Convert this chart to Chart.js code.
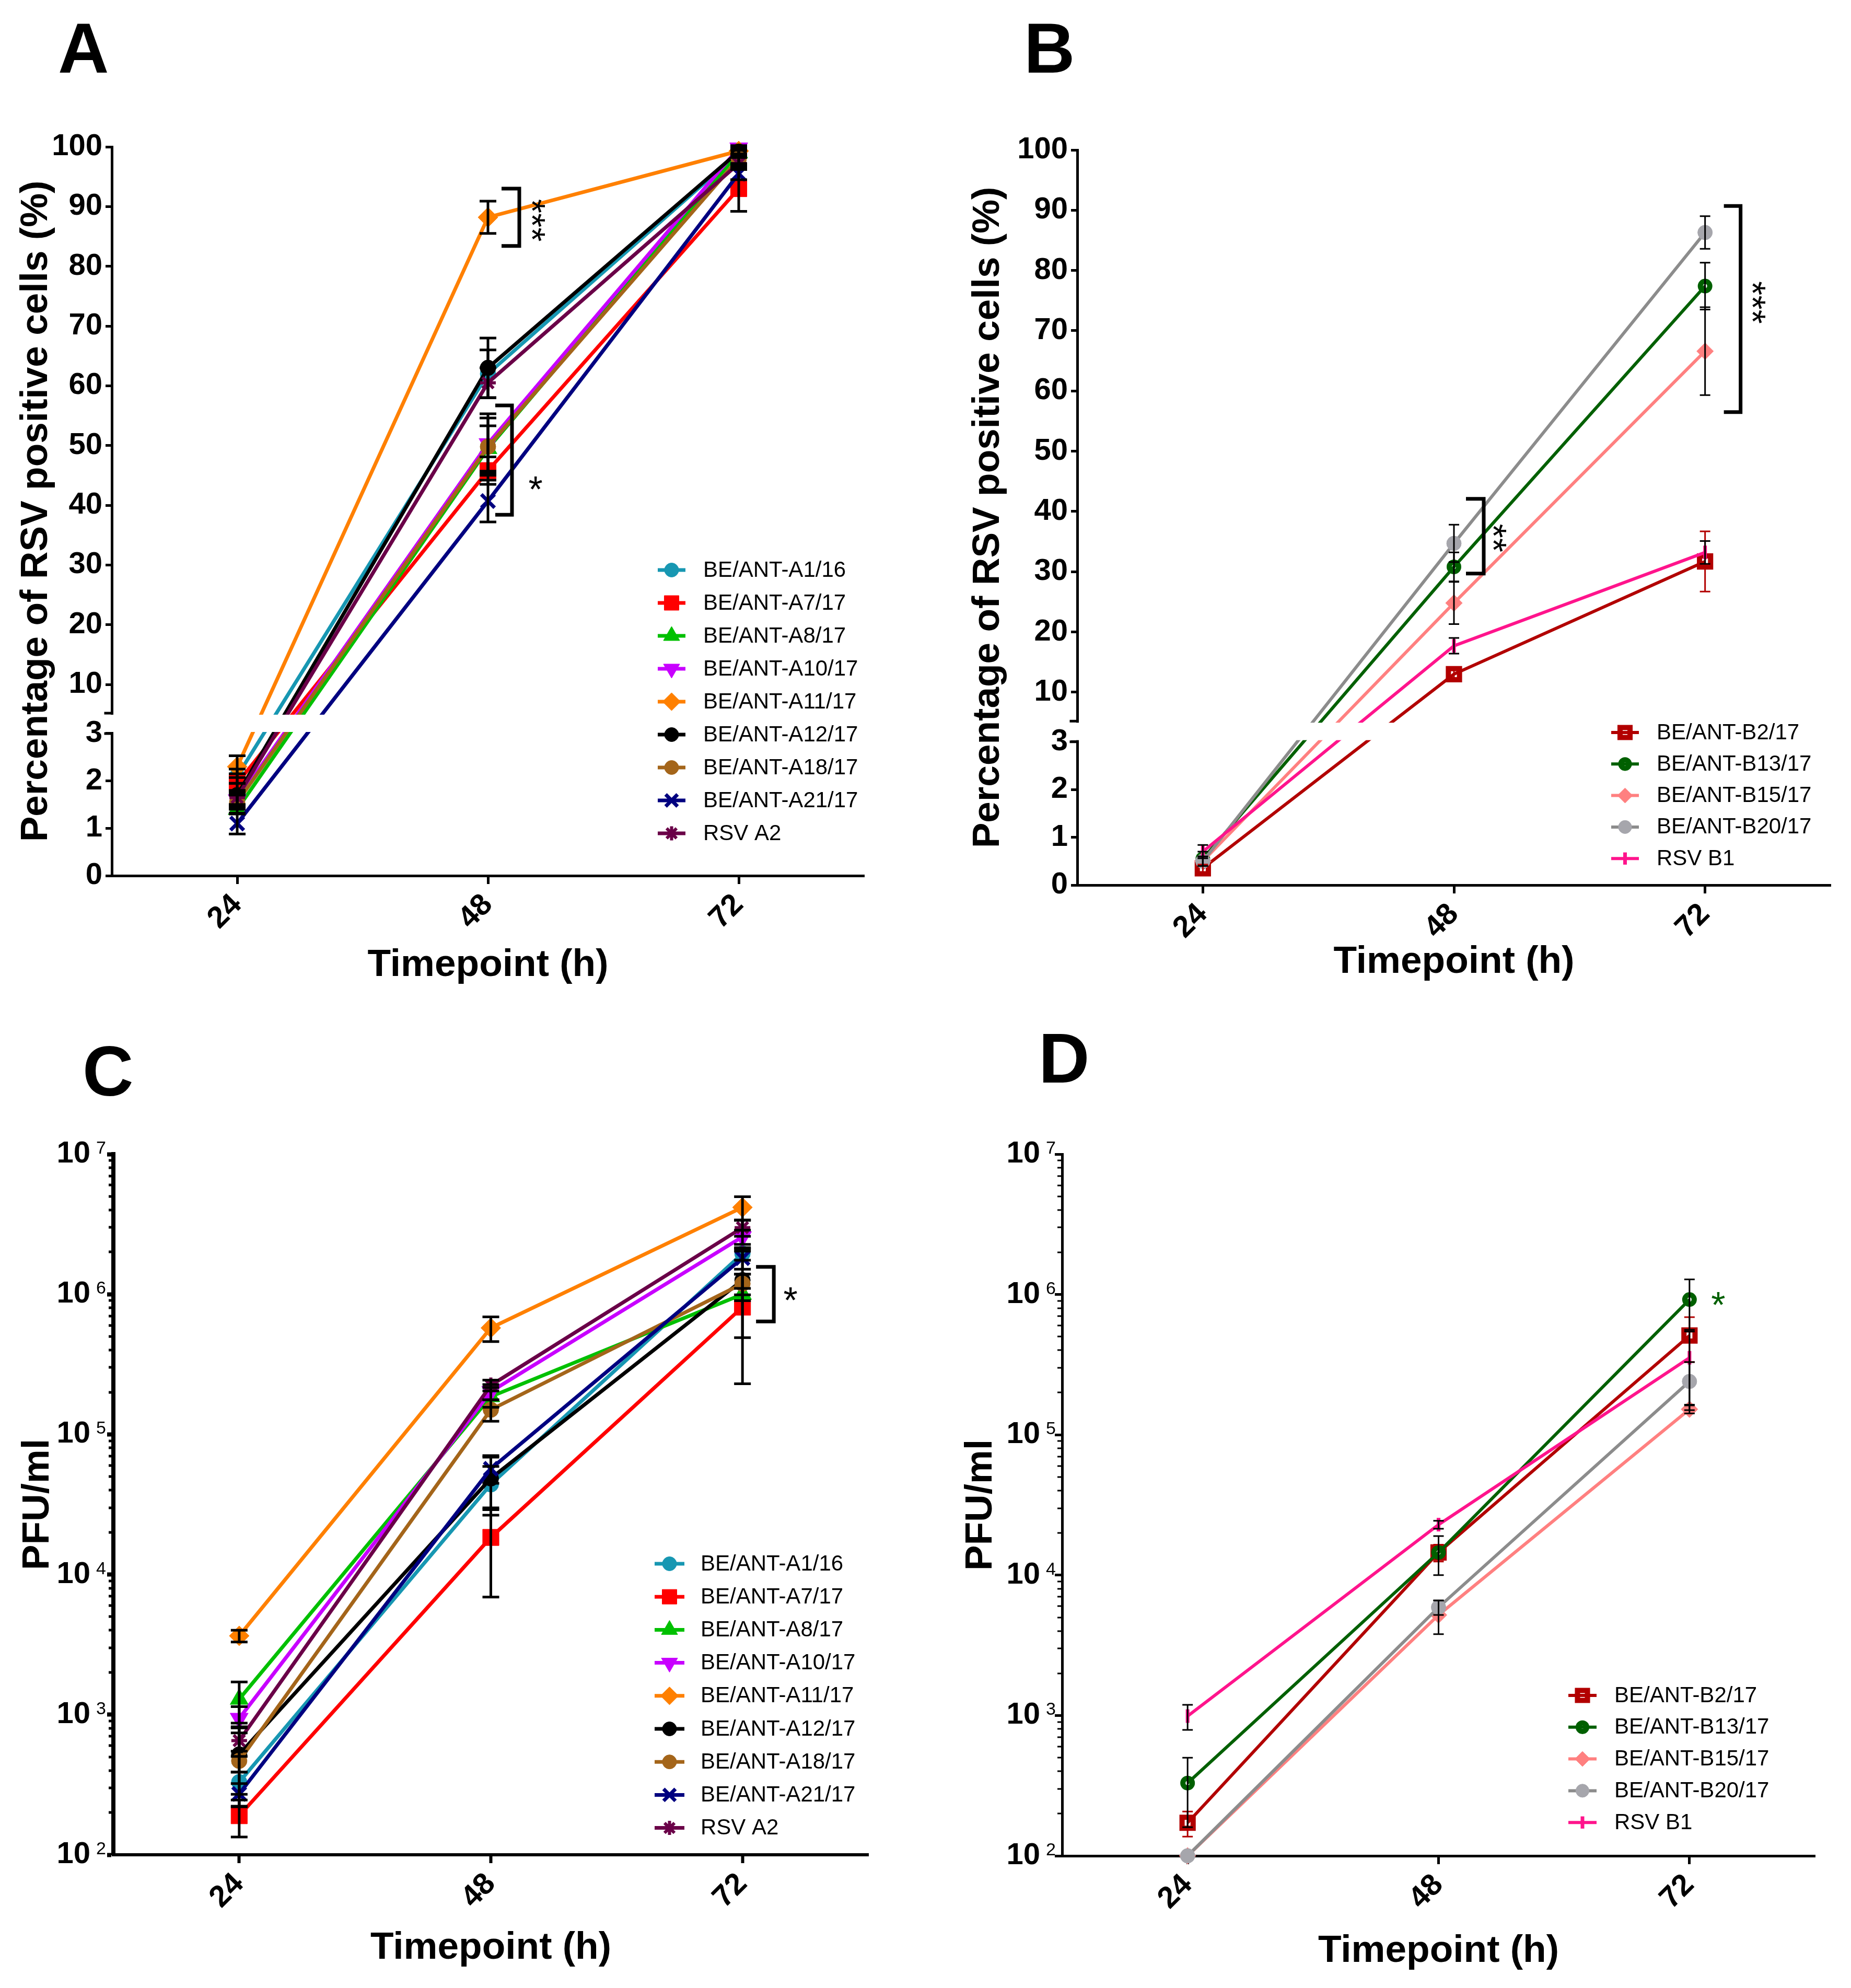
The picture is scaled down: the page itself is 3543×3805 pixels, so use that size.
<!DOCTYPE html>
<html>
<head>
<meta charset="utf-8">
<script src="https://cdn.jsdelivr.net/npm/chart.js@4.4.1/dist/chart.umd.min.js"></script>
<style>
  html, body { margin: 0; padding: 0; background: #fff; }
  body { position: relative; width: 3543px; height: 3805px; overflow: hidden; font-family: 'Liberation Sans', Arial, sans-serif; }
  canvas { position: absolute; }
  .tag { position: absolute; font-weight: bold; font-size: 135px; line-height: 1; color: #000; }
</style>
</head>
<body>
<div class="tag" style="left:111px; top:25px">A</div>
<div class="tag" style="left:1960px; top:25px">B</div>
<div class="tag" style="left:158px; top:1983px">C</div>
<div class="tag" style="left:1988px; top:1958px">D</div>
<canvas id="chartA" width="1771" height="1902" style="left:0; top:0"></canvas>
<canvas id="chartB" width="1772" height="1902" style="left:1771px; top:0"></canvas>
<canvas id="chartC" width="1771" height="1903" style="left:0; top:1902px"></canvas>
<canvas id="chartD" width="1772" height="1903" style="left:1771px; top:1902px"></canvas>
<script>
// ---- data ----
const timepoints = ['24', '48', '72'];

const namesA = ['BE/ANT-A1/16', 'BE/ANT-A7/17', 'BE/ANT-A8/17', 'BE/ANT-A10/17', 'BE/ANT-A11/17',
  'BE/ANT-A12/17', 'BE/ANT-A18/17', 'BE/ANT-A21/17', 'RSV A2'];
// % RSV positive cells, one row per strain (24h, 48h, 72h)
const pctA = [
  [2.1, 62.0, 99.0],
  [1.95, 45.8, 93.0],
  [1.4, 49.5, 99.0],
  [1.6, 50.3, 99.8],
  [2.3, 88.2, 99.3],
  [1.7, 63.0, 99.2],
  [1.55, 49.8, 98.0],
  [1.1, 40.7, 95.5],
  [1.65, 60.5, 97.2]
];
const pctAErr = [
  [0.15, 4.0, 0.6],
  [0.2, 2.3, 3.8],
  [0.1, 3.8, 0.6],
  [0.12, 5.0, 0.4],
  [0.23, 2.7, 0.5],
  [0.25, 5.0, 0.6],
  [0.15, 4.8, 0.8],
  [0.22, 3.5, 1.0],
  [0.15, 2.5, 1.0]
];
// PFU/ml
const pfuA = [
  [330, 44000, 1950000],
  [190, 18400, 810000],
  [1290, 186000, 1000000],
  [940, 202000, 2570000],
  [3650, 575000, 4170000],
  [520, 48500, 1260000],
  [468, 150000, 1190000],
  [272, 56800, 1810000],
  [653, 224000, 2990000]
];
const pfuAErr = [
  [60, 15000, 200000],
  [56, 11500, 580000],
  [420, 30000, 100000],
  [200, 25000, 300000],
  [350, 115000, 800000],
  [300, 22000, 770000],
  [80, 26000, 200000],
  [50, 12000, 300000],
  [150, 20000, 400000]
];

const namesB = ['BE/ANT-B2/17', 'BE/ANT-B13/17', 'BE/ANT-B15/17', 'BE/ANT-B20/17', 'RSV B1'];
const pctB = [
  [0.35, 13.0, 31.7],
  [0.55, 30.8, 77.4],
  [0.5, 24.8, 66.6],
  [0.5, 34.7, 86.3],
  [0.7, 17.7, 33.2]
];
const pctBErr = [
  [0.08, 0.8, 5.0],
  [0.15, 2.4, 3.9],
  [0.1, 3.5, 7.3],
  [0.1, 3.1, 2.7],
  [0.14, 1.3, 1.9]
];
const pfuB = [
  [172, 14500, 510000],
  [330, 14500, 920000],
  [100, 5200, 152000],
  [100, 5900, 240000],
  [990, 22900, 354000]
];
const pfuBErr = [
  [35, 2000, 180000],
  [170, 4500, 360000],
  [0, 1400, 10000],
  [0, 700, 90000],
  [200, 1500, 190000]
];

const pctTicks = [0, 1, 2, 3, 10, 20, 30, 40, 50, 60, 70, 80, 90, 100];
const logExponents = [2, 3, 4, 5, 6, 7];

// ---- styles ----
const FONT = "'Liberation Sans', Arial, sans-serif";
Chart.defaults.font.family = FONT;
Chart.defaults.color = '#000';

const colorsA = ['#1797b2', '#ff0000', '#00c000', '#c800ff', '#ff8000', '#000000', '#a4651a', '#000080', '#6a0048'];
const marksA = [
  { shape: 'circle', r: 15 },
  { shape: 'rect', r: 22 },
  { shape: 'triangle', r: 20 },
  { shape: 'triangle', r: 20, rot: 180 },
  { shape: 'rectRot', r: 19 },
  { shape: 'circle', r: 15 },
  { shape: 'circle', r: 15 },
  { shape: 'crossRot', r: 18, bw: 7 },
  { shape: 'star', r: 15, bw: 6 }
];
const errColorsA = namesA.map(() => '#000');

const colorsB = ['#b20000', '#006000', '#ff8080', '#8c8c8c', '#ff148c'];
const marksB = [
  { shape: 'rect', r: 15, bw: 10, fill: 'rgba(0,0,0,0)' },
  { shape: 'circle', r: 9, bw: 10, fill: 'rgba(0,0,0,0)' },
  { shape: 'rectRot', r: 16 },
  { shape: 'circle', r: 14, fill: '#a6a6ac', stroke: '#a6a6ac' },
  { shape: 'line', r: 13, rot: 90, bw: 7 }
];
const errColorsB = ['#b20000', '#000', '#000', '#000', '#000'];

// broken y axis: 0-3 below the gap, 5.2-100 above it
const BRK = { low: 3, high: 5.2, lowFrac: 0.195, gapFrac: 0.028 };

class BrokenScale extends Chart.LinearScale {
  buildTicks() {
    this.start = this.min;
    this.end = this.max;
    return pctTicks.map(v => ({ value: v }));
  }
  toDecimal(v) {
    if (v <= BRK.low) return (v - this.min) / (BRK.low - this.min) * BRK.lowFrac;
    if (v >= BRK.high) {
      return BRK.lowFrac + BRK.gapFrac + (v - BRK.high) / (this.max - BRK.high) * (1 - BRK.lowFrac - BRK.gapFrac);
    }
    return BRK.lowFrac + (v - BRK.low) / (BRK.high - BRK.low) * BRK.gapFrac;
  }
  getPixelForValue(v) {
    if (v === null || v === undefined || isNaN(v)) return NaN;
    return this.getPixelForDecimal(this.toDecimal(v));
  }
  getValueForPixel(p) {
    const d = this.getDecimalForPixel(p);
    if (d <= BRK.lowFrac) return this.min + d / BRK.lowFrac * (BRK.low - this.min);
    if (d >= BRK.lowFrac + BRK.gapFrac) {
      return BRK.high + (d - BRK.lowFrac - BRK.gapFrac) / (1 - BRK.lowFrac - BRK.gapFrac) * (this.max - BRK.high);
    }
    return BRK.low + (d - BRK.lowFrac) / BRK.gapFrac * (BRK.high - BRK.low);
  }
}
BrokenScale.id = 'brokenLinear';
Chart.register(BrokenScale);

// error bars, axis break, exponents, significance marks and the inset legend
function decorations(cfg) {
  return {
    id: 'decor',
    afterDatasetsDraw(chart) {
      const ctx = chart.ctx;
      const xs = chart.scales.x, ys = chart.scales.y, area = chart.chartArea;
      ctx.save();
      ctx.lineCap = 'butt';

      if (cfg.broken) {
        const yLow = ys.getPixelForValue(BRK.low), yHigh = ys.getPixelForValue(BRK.high);
        const xEnd = xs.getPixelForValue(1);
        ctx.fillStyle = '#fff';
        ctx.fillRect(area.left - 8, yHigh + 3, xEnd - area.left + 8, yLow - yHigh - 6);
        ctx.strokeStyle = '#000';
        ctx.lineWidth = cfg.axisW;
        ctx.beginPath();
        [yHigh, yLow].forEach(y => {
          ctx.moveTo(area.left - cfg.tickLen - cfg.axisW / 2, y);
          ctx.lineTo(area.left, y);
        });
        ctx.stroke();
      }

      if (cfg.exp) {
        // minor log ticks
        ctx.strokeStyle = '#000';
        ctx.lineWidth = cfg.exp.minorW;
        ctx.beginPath();
        for (let e = 2; e < 7; e++) {
          for (let m = 2; m <= 9; m++) {
            const y = Math.round(ys.getPixelForValue(m * Math.pow(10, e)));
            ctx.moveTo(area.left - cfg.exp.minorLen, y);
            ctx.lineTo(area.left, y);
          }
        }
        ctx.stroke();
        // exponents next to the "10" tick labels
        ctx.fillStyle = '#000';
        ctx.font = '34px ' + FONT;
        ctx.textAlign = 'left';
        ctx.textBaseline = 'alphabetic';
        ys.ticks.forEach(t => {
          const y = ys.getPixelForValue(t.value);
          ctx.fillText(String(Math.round(Math.log10(t.value))), area.left - cfg.exp.gap + 11, y - 1);
        });
      }

      // error bars
      chart.data.datasets.forEach((ds, i) => {
        ds.data.forEach((v, j) => {
          const e = cfg.errors[i][j];
          if (!e) return;
          const x = xs.getPixelForValue(j);
          let lo = v - e;
          const hi = v + e;
          let lowCap = true;
          if (lo < ys.min) { lo = ys.min; lowCap = false; }
          const y0 = ys.getPixelForValue(lo), y1 = ys.getPixelForValue(hi);
          const cw = cfg.err.cap;
          ctx.strokeStyle = cfg.errColors[i];
          ctx.lineWidth = cfg.err.w;
          ctx.beginPath();
          ctx.moveTo(x, y0); ctx.lineTo(x, y1);
          ctx.moveTo(x - cw, y1); ctx.lineTo(x + cw, y1);
          if (lowCap) { ctx.moveTo(x - cw, y0); ctx.lineTo(x + cw, y0); }
          ctx.stroke();
        });
      });

      // brackets
      ctx.strokeStyle = '#000';
      ctx.lineWidth = 7;
      ctx.lineJoin = 'miter';
      (cfg.brackets || []).forEach(b => {
        const cx = xs.getPixelForValue(b.cat);
        const yT = ys.getPixelForValue(b.y0), yB = ys.getPixelForValue(b.y1);
        ctx.beginPath();
        ctx.moveTo(cx + b.dx0, yT);
        ctx.lineTo(cx + b.dx1, yT);
        ctx.lineTo(cx + b.dx1, yB);
        ctx.lineTo(cx + b.dx0, yB);
        ctx.stroke();
      });

      // asterisks
      (cfg.stars || []).forEach(s => {
        const x = xs.getPixelForValue(s.cat) + s.dx;
        const y = ys.getPixelForValue(s.y);
        ctx.fillStyle = s.color || '#000';
        ctx.font = '70px ' + FONT;
        ctx.textAlign = 'center';
        ctx.textBaseline = 'alphabetic';
        ctx.save();
        ctx.translate(x, y);
        if (s.rot) ctx.rotate(Math.PI / 2);
        ctx.fillText(s.text, 0, 40);
        ctx.restore();
      });

      // legend inside the plot
      const lg = cfg.legend;
      chart.data.datasets.forEach((ds, i) => {
        const y = lg.y0 + i * lg.dy;
        ctx.strokeStyle = ds.borderColor;
        ctx.lineWidth = ds.borderWidth;
        ctx.beginPath();
        ctx.moveTo(lg.lx0, y); ctx.lineTo(lg.lx1, y);
        ctx.stroke();
        ctx.fillStyle = ds.pointBackgroundColor;
        ctx.strokeStyle = ds.pointBorderColor;
        ctx.lineWidth = ds.pointBorderWidth;
        Chart.helpers.drawPoint(ctx, {
          pointStyle: ds.pointStyle, radius: ds.pointRadius * 0.9,
          rotation: ds.pointRotation, borderWidth: ds.pointBorderWidth
        }, (lg.lx0 + lg.lx1) / 2, y);
        ctx.fillStyle = '#000';
        ctx.font = '42px ' + FONT;
        ctx.textAlign = 'left';
        ctx.textBaseline = 'middle';
        ctx.fillText(ds.label, lg.tx, y + 1);
      });
      ctx.restore();
    }
  };
}

function panel(id, o) {
  const cv = document.getElementById(id);
  const W = cv.width, H = cv.height;
  const datasets = o.names.map((name, i) => {
    const m = o.marks[i];
    const c = o.colors[i];
    return {
      label: name,
      data: o.values[i],
      borderColor: c,
      backgroundColor: c,
      borderWidth: o.lineW,
      tension: 0,
      fill: false,
      pointStyle: m.shape,
      pointRadius: m.r,
      pointHoverRadius: m.r,
      pointRotation: m.rot || 0,
      pointBorderWidth: m.bw || 1,
      pointBorderColor: m.stroke || c,
      pointBackgroundColor: m.fill || c,
      clip: false,
      order: -i
    };
  });

  const yScale = o.log ? {
    type: 'logarithmic', min: 100, max: 10000000,
    afterBuildTicks: s => { s.ticks = logExponents.map(e => ({ value: Math.pow(10, e) })); },
    ticks: {
      callback: () => '10',
      font: { size: 58, weight: 'bold' }, color: '#000', padding: o.decor.exp.gap - o.tickLen, autoSkip: false
    }
  } : {
    type: 'brokenLinear', min: 0, max: 100,
    ticks: { callback: v => String(v), font: { size: 58, weight: 'bold' }, color: '#000', padding: 6, autoSkip: false }
  };
  Object.assign(yScale, {
    position: 'left',
    grid: { drawOnChartArea: false, drawTicks: true, tickLength: o.tickLen, tickWidth: o.yAxisW, tickColor: '#000' },
    border: { display: true, color: '#000', width: o.yAxisW },
    title: {
      display: true, text: o.yTitle, color: '#000',
      font: { size: 73, weight: 'bold' }, padding: { top: o.yTitlePad, bottom: 0 }
    },
    afterFit: s => { s.width = o.area.left; }
  });

  return new Chart(cv, {
    type: 'line',
    data: { labels: timepoints, datasets: datasets },
    options: {
      responsive: false,
      animation: false,
      devicePixelRatio: 1,
      layout: { padding: { left: 0, top: o.area.top, right: W - o.area.right, bottom: 0 } },
      plugins: { legend: { display: false }, tooltip: { enabled: false } },
      scales: {
        x: {
          type: 'category', offset: true,
          grid: { drawOnChartArea: false, drawTicks: true, tickLength: 16, tickWidth: o.xAxisW, tickColor: '#000' },
          border: { display: true, color: '#000', width: o.xAxisW },
          ticks: { minRotation: 45, maxRotation: 45, padding: 6, autoSkip: false, color: '#000', font: { size: 58, weight: 'bold' } },
          title: {
            display: true, text: 'Timepoint (h)', color: '#000',
            font: { size: 73, weight: 'bold' }, padding: { top: 0, bottom: o.xTitlePad }
          },
          afterFit: s => { s.height = H - o.area.bottom; }
        },
        y: yScale
      }
    },
    plugins: [decorations(o.decor)]
  });
}

panel('chartA', {
  names: namesA, values: pctA, colors: colorsA, marks: marksA, lineW: 7,
  yTitle: 'Percentage of RSV positive cells (%)',
  area: { left: 214, right: 1654, top: 281, bottom: 1676 },
  yTitlePad: 26, xTitlePad: 10, yAxisW: 5, xAxisW: 5, tickLen: 12,
  decor: {
    broken: true, axisW: 5, tickLen: 12,
    errors: pctAErr, errColors: errColorsA, err: { w: 5, cap: 16 },
    brackets: [
      { cat: 1, dx0: 26, dx1: 60, y0: 93.0, y1: 83.4 },
      { cat: 1, dx0: 14, dx1: 46, y0: 56.7, y1: 38.4 }
    ],
    stars: [
      { cat: 1, dx: 100, y: 87.7, text: '***', rot: true },
      { cat: 1, dx: 91, y: 44, text: '*' }
    ],
    legend: { y0: 1091, dy: 63, lx0: 1259, lx1: 1312, tx: 1346 }
  }
});

panel('chartB', {
  names: namesB, values: pctB, colors: colorsB, marks: marksB, lineW: 6,
  yTitle: 'Percentage of RSV positive cells (%)',
  area: { left: 291, right: 1733, top: 287, bottom: 1694 },
  yTitlePad: 77, xTitlePad: 16, yAxisW: 5, xAxisW: 5, tickLen: 12,
  decor: {
    broken: true, axisW: 5, tickLen: 12,
    errors: pctBErr, errColors: errColorsB, err: { w: 3, cap: 10 },
    brackets: [
      { cat: 1, dx0: 23, dx1: 57, y0: 42.1, y1: 29.7 },
      { cat: 2, dx0: 36, dx1: 68, y0: 90.7, y1: 56.5 }
    ],
    stars: [
      { cat: 1, dx: 91, y: 35.6, text: '**', rot: true },
      { cat: 2, dx: 106, y: 74.7, text: '***', rot: true }
    ],
    legend: { y0: 1402, dy: 60.3, lx0: 1313, lx1: 1366, tx: 1400 }
  }
});

panel('chartC', {
  names: namesA, values: pfuA, colors: colorsA, marks: marksA, lineW: 7, log: true,
  yTitle: 'PFU/ml',
  area: { left: 217, right: 1662, top: 307, bottom: 1648 },
  yTitlePad: 29, xTitlePad: 32, yAxisW: 8, xAxisW: 6, tickLen: 12,
  decor: {
    exp: { gap: 44, minorLen: 9, minorW: 5 },
    errors: pfuAErr, errColors: errColorsA, err: { w: 5, cap: 16 },
    brackets: [{ cat: 2, dx0: 26, dx1: 60, y0: 1570000, y1: 640000 }],
    stars: [{ cat: 2, dx: 92, y: 1040000, text: '*' }],
    legend: { y0: 1091, dy: 63.2, lx0: 1253, lx1: 1310, tx: 1341 }
  }
});

panel('chartD', {
  names: namesB, values: pfuB, colors: colorsB, marks: marksB, lineW: 6, log: true,
  yTitle: 'PFU/ml',
  area: { left: 262, right: 1703, top: 307, bottom: 1650 },
  yTitlePad: 63, xTitlePad: 26, yAxisW: 5, xAxisW: 5, tickLen: 14,
  decor: {
    exp: { gap: 42, minorLen: 9, minorW: 3 },
    errors: pfuBErr, errColors: errColorsB, err: { w: 3, cap: 10 },
    stars: [{ cat: 2, dx: 55, y: 960000, text: '*', color: '#006000' }],
    legend: { y0: 1343, dy: 60.8, lx0: 1231, lx1: 1285, tx: 1319 }
  }
});
</script>
</body>
</html>
